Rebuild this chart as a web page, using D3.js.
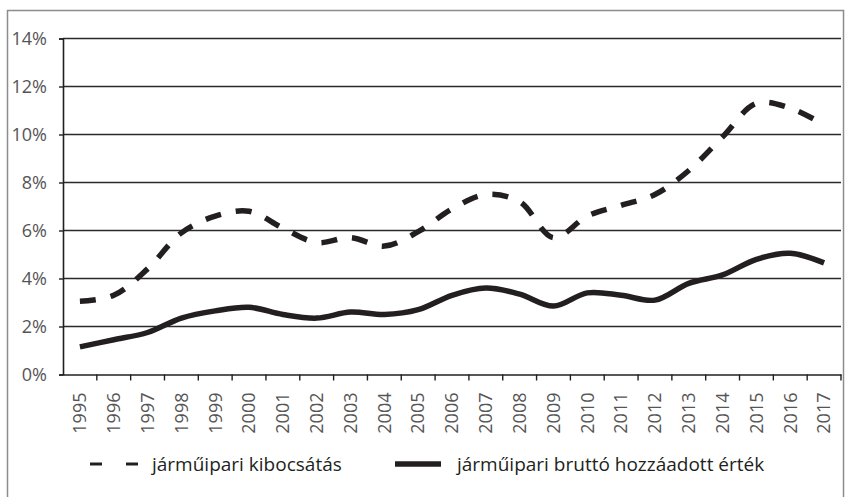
<!DOCTYPE html>
<html lang="hu">
<head>
<meta charset="UTF-8">
<title>Járműipar</title>
<script src="https://d3js.org/d3.v7.min.js"></script>
<style>
  body { margin: 0; padding: 0; background: #fff; }
  svg { display: block; }
  .tick text { font-family: "Open Sans", sans-serif; fill: #555; }
  .legend text { font-family: "Open Sans", sans-serif; fill: #231f20; }
</style>
</head>
<body>
<svg id="chart" width="846" height="497"></svg>
<script>
// years on the category axis
const years = ['1995','1996','1997','1998','1999','2000','2001','2002','2003','2004','2005',
               '2006','2007','2008','2009','2010','2011','2012','2013','2014','2015','2016','2017'];
// járműipari kibocsátás (%)
const kibocsatas = [3.05, 3.3, 4.4, 5.9, 6.6, 6.8, 6.1, 5.5, 5.7, 5.35, 5.95,
                    6.9, 7.5, 7.2, 5.7, 6.6, 7.05, 7.5, 8.5, 9.9, 11.3, 11.1, 10.4];
// járműipari bruttó hozzáadott érték (%)
const hozzaadott = [1.15, 1.45, 1.75, 2.35, 2.65, 2.8, 2.5, 2.35, 2.6, 2.5, 2.7,
                    3.3, 3.6, 3.35, 2.85, 3.4, 3.3, 3.1, 3.8, 4.15, 4.8, 5.05, 4.65];
const yTicks = [0, 2, 4, 6, 8, 10, 12, 14];
const seriesNames = ['járműipari kibocsátás', 'járműipari bruttó hozzáadott érték'];

const svg = d3.select('#chart');
const plotLeft = 63, plotRight = 841, plotTop = 38.5, plotBottom = 374.5;
const ink = '#231f20';

// outer frame
svg.append('rect')
  .attr('x', 7.5).attr('y', 10.5)
  .attr('width', 836).attr('height', 520)
  .attr('fill', 'none').attr('stroke', '#8c8c8c').attr('stroke-width', 1.5);

const x = d3.scaleBand().domain(years).range([plotLeft, plotRight]);
const y = d3.scaleLinear().domain([0, 14]).range([plotBottom, plotTop]);

// gridlines
svg.append('g')
  .selectAll('line')
  .data(yTicks.slice(1))
  .enter().append('line')
  .attr('x1', plotLeft).attr('x2', plotRight)
  .attr('y1', d => y(d)).attr('y2', d => y(d))
  .attr('stroke', '#2b2b2b').attr('stroke-width', 1.3);

// y axis
const yAxis = svg.append('g')
  .attr('transform', `translate(${plotLeft},0)`)
  .call(d3.axisLeft(y).tickValues(yTicks).tickFormat(d => d + '%').tickSize(4).tickPadding(12));
yAxis.select('.domain').attr('stroke', ink).attr('stroke-width', 1.6);
yAxis.selectAll('.tick line').attr('stroke', ink).attr('stroke-width', 1.4);
yAxis.selectAll('.tick text').style('font-size', '18px');

// x axis: ticks on category boundaries
const xAxis = svg.append('g')
  .attr('transform', `translate(0,${plotBottom})`)
  .call(d3.axisBottom(x).tickSize(0).tickPadding(0));
xAxis.select('.domain').attr('stroke', ink).attr('stroke-width', 1.6);
xAxis.selectAll('.tick text')
  .style('font-size', '18px')
  .attr('text-anchor', 'end')
  .attr('transform', 'rotate(-90)')
  .attr('x', -18).attr('y', 0).attr('dy', '0.35em');
xAxis.selectAll('.boundary')
  .data(years)
  .enter().append('line')
  .attr('class', 'boundary')
  .attr('x1', d => x(d) + x.bandwidth()).attr('x2', d => x(d) + x.bandwidth())
  .attr('y1', 0).attr('y2', 6)
  .attr('stroke', ink).attr('stroke-width', 1.4);

// series
const line = d3.line()
  .x((d, i) => x(years[i]) + x.bandwidth() / 2)
  .y(d => y(d))
  .curve(d3.curveCatmullRom.alpha(0.5));

svg.append('path')
  .datum(hozzaadott)
  .attr('d', line)
  .attr('fill', 'none')
  .attr('stroke', ink)
  .attr('stroke-width', 5.5)
  .attr('stroke-linecap', 'butt');

svg.append('path')
  .datum(kibocsatas)
  .attr('d', line)
  .attr('fill', 'none')
  .attr('stroke', ink)
  .attr('stroke-width', 5.5)
  .attr('stroke-dasharray', '16,15');

// legend
const legend = svg.append('g').attr('class', 'legend');
legend.append('line')
  .attr('x1', 90).attr('x2', 138).attr('y1', 464).attr('y2', 464)
  .attr('stroke', ink).attr('stroke-width', 3)
  .attr('stroke-dasharray', '12,24');
legend.append('text')
  .attr('x', 152).attr('y', 471)
  .style('font-size', '19px')
  .text(seriesNames[0]);
legend.append('line')
  .attr('x1', 395).attr('x2', 441).attr('y1', 464).attr('y2', 464)
  .attr('stroke', ink).attr('stroke-width', 5.5);
legend.append('text')
  .attr('x', 457).attr('y', 471)
  .style('font-size', '19px')
  .text(seriesNames[1]);
</script>
</body>
</html>
